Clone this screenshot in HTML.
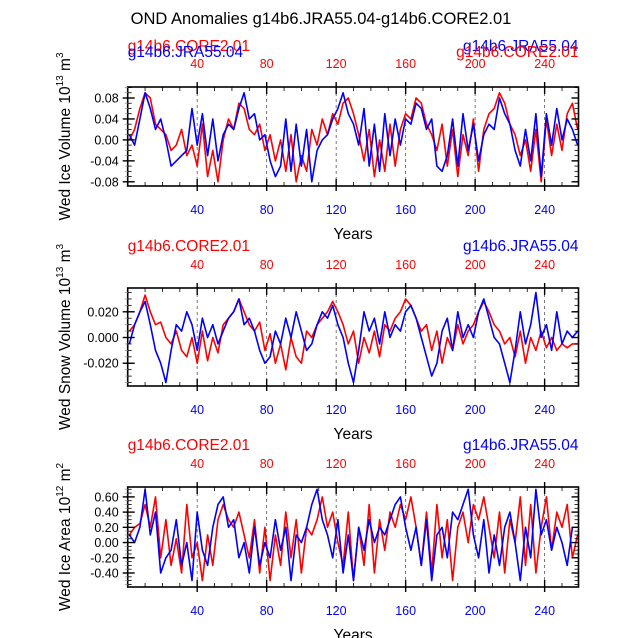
<!DOCTYPE html>
<html><head><meta charset="utf-8"><style>
html,body{margin:0;padding:0;background:#fff;}
svg{display:block;font-family:"Liberation Sans",Arial,sans-serif;}
</style></head><body>
<svg id="chart" width="638" height="638" viewBox="0 0 638 638" xmlns="http://www.w3.org/2000/svg">
<text x="321" y="24" font-size="16.5" text-anchor="middle">OND Anomalies g14b6.JRA55.04-g14b6.CORE2.01</text>
</svg>
<script>
const xTicks=[40,80,120,160,200,240];
const iceRed=[0.00,0.02,0.06,0.09,0.08,0.03,0.02,0.01,-0.02,-0.01,0.02,-0.03,-0.01,-0.05,0.03,-0.07,-0.02,-0.08,0.00,0.04,0.02,0.07,0.06,0.02,0.01,0.03,-0.02,0.01,-0.04,0.00,-0.06,0.01,-0.08,-0.03,-0.06,0.02,-0.01,0.04,0.01,0.05,0.03,0.07,0.08,0.05,0.01,-0.04,0.02,-0.07,0.00,-0.06,0.03,-0.05,0.02,0.05,0.04,0.08,0.07,0.03,0.01,-0.02,0.03,-0.05,0.02,-0.07,0.01,-0.03,0.04,-0.06,0.02,0.05,0.06,0.09,0.07,0.03,0.01,-0.03,0.00,-0.06,0.02,-0.08,0.04,-0.03,0.03,-0.02,0.05,0.07,0.02];
const iceBlue=[0.01,-0.01,0.04,0.09,0.06,0.02,0.04,0.00,-0.05,-0.04,-0.03,-0.02,0.06,-0.01,0.05,-0.03,0.04,-0.04,0.01,0.03,0.02,0.06,0.09,0.04,0.05,0.00,0.01,-0.04,-0.07,-0.05,0.04,-0.06,0.03,-0.05,0.02,-0.08,-0.02,0.00,0.01,0.04,0.06,0.09,0.05,0.03,-0.01,0.06,-0.05,0.03,-0.06,0.05,-0.03,0.04,-0.01,0.04,0.03,0.07,0.06,0.02,0.04,-0.05,-0.06,-0.03,0.04,-0.05,0.05,-0.02,0.03,-0.04,0.01,0.03,0.02,0.08,0.05,0.03,-0.02,-0.05,0.02,-0.04,0.05,-0.07,0.05,-0.01,0.06,0.00,0.04,0.02,-0.01];
const snowRed=[0.005,0.01,0.02,0.033,0.02,0.01,0.012,0.0,-0.005,0.005,-0.01,-0.015,0.0,-0.02,0.005,-0.018,0.0,-0.012,0.01,0.015,0.02,0.03,0.02,0.01,0.005,0.012,-0.01,0.003,-0.02,-0.005,-0.025,0.0,-0.015,-0.02,0.005,0.0,0.01,0.015,0.02,0.028,0.02,0.01,-0.005,0.005,-0.02,0.0,-0.012,0.005,-0.015,0.01,0.005,0.015,0.02,0.03,0.025,0.015,0.005,0.01,-0.01,0.005,-0.02,0.0,-0.01,0.01,-0.005,0.005,0.01,0.02,0.028,0.02,0.01,0.005,-0.005,0.0,-0.015,0.005,-0.02,0.0,-0.01,0.005,-0.008,0.0,-0.01,-0.005,-0.008,-0.005,-0.005];
const snowBlue=[-0.005,0.01,0.02,0.028,0.01,-0.01,-0.02,-0.035,-0.01,0.01,0.005,0.02,0.01,-0.01,0.015,0.0,0.01,-0.005,0.005,0.015,0.02,0.03,0.01,0.015,0.005,-0.01,-0.02,-0.015,0.005,-0.005,0.015,0.0,0.02,0.005,-0.01,-0.005,0.01,0.02,0.015,0.025,0.01,0.0,-0.02,-0.035,-0.01,0.02,0.005,0.015,-0.005,0.02,0.0,0.01,0.005,0.02,0.025,0.015,0.0,-0.015,-0.03,-0.02,0.005,0.015,-0.01,0.02,0.0,0.01,0.0,0.02,0.03,0.015,0.0,-0.005,-0.02,-0.035,-0.01,0.02,-0.005,0.01,0.035,0.0,0.01,-0.01,0.02,-0.005,0.005,0.0,0.005];
const areaRed=[0.1,0.2,0.25,0.5,0.2,0.6,-0.2,0.3,-0.3,0.05,-0.4,0.5,-0.2,0.0,-0.5,0.1,-0.3,0.3,0.5,0.3,0.2,0.4,0.1,-0.2,0.3,-0.4,0.2,-0.5,0.1,-0.3,0.4,-0.2,0.3,-0.4,0.2,0.1,0.3,0.6,0.2,0.4,0.0,-0.3,0.4,-0.5,0.2,-0.3,0.5,-0.4,0.3,-0.1,0.4,0.2,0.5,0.3,0.6,0.2,-0.3,0.4,-0.4,0.5,-0.2,0.3,-0.5,0.2,0.4,0.0,0.5,0.3,0.6,0.2,-0.2,0.4,-0.4,0.3,0.0,0.6,-0.3,0.5,-0.4,0.2,0.6,-0.1,0.4,0.2,0.5,-0.2,0.1];
const areaBlue=[0.1,0.0,0.2,0.7,0.1,0.4,-0.4,-0.2,-0.1,0.3,-0.3,0.0,-0.5,0.4,-0.1,-0.3,0.2,0.5,0.6,0.2,0.3,-0.2,0.0,-0.4,0.2,-0.3,0.0,-0.2,0.3,-0.1,0.2,-0.5,0.1,0.0,0.2,0.5,0.7,0.3,0.1,-0.2,0.3,-0.4,0.1,-0.5,0.2,-0.1,0.3,0.0,0.2,0.1,0.3,0.5,0.6,0.2,-0.1,0.2,-0.3,0.3,-0.5,0.1,0.2,-0.2,0.4,0.3,0.5,0.7,0.1,-0.2,0.3,-0.4,0.1,-0.3,0.2,0.4,0.0,-0.5,0.2,-0.2,0.7,0.1,0.3,-0.1,0.2,0.0,-0.3,0.2];
const iceTicks=[0.08,0.04,0.00,-0.04,-0.08];
const iceTickLabels=["0.08","0.04","0.00","-0.04","-0.08"];
const snowTicks=[0.02,0.0,-0.02];
const snowTickLabels=["0.020","0.000","-0.020"];
const areaTicks=[0.6,0.4,0.2,0.0,-0.2,-0.4];
const areaTickLabels=["0.60","0.40","0.20","0.00","-0.20","-0.40"];

const NS="http://www.w3.org/2000/svg";
const svg=document.getElementById('chart');
function mk(tag,attrs,parent){const e=document.createElementNS(NS,tag);for(const k in attrs)e.setAttribute(k,attrs[k]);(parent||svg).appendChild(e);return e;}
const X0=127.7,X1=578.5,XMIN=0,XMAX=259.5;
function xs(v){return X0+(v-XMIN)/(XMAX-XMIN)*(X1-X0);}

function panel(id,top,bottom,ymin,ymax,ticks,tickLabels,minorStep,red,blue,titleMain,sup,unit,unitSup,overlap){
  const g=mk('g',{});
  
  
  const ys=v=>bottom-(v-ymin)/(ymax-ymin)*(bottom-top);
  xTicks.forEach(t=>{const l=mk('line',{x1:xs(t),x2:xs(t),y1:top,y2:bottom,stroke:'#555','stroke-width':0.8,'stroke-dasharray':'3,3'},g);
    });
  [[red,'#ff0000','red'],[blue,'#0000ff','blue']].forEach(([arr,c,n])=>{
    const pts=arr.map((v,i)=>xs(i*3+1).toFixed(1)+','+ys(v).toFixed(1)).join(' ');
    const p=mk('polyline',{points:pts,fill:'none',stroke:c,'stroke-width':1.6,'stroke-linejoin':'round'},g);
    
  });
  const f=mk('rect',{x:X0,y:top,width:X1-X0,height:bottom-top,fill:'none',stroke:'#000','stroke-width':1.6},g);
  
  for(let t=10;t<=250;t+=10){const major=t%40===0;
    const x=xs(t);
    mk('line',{x1:x,x2:x,y1:bottom,y2:bottom-(major?7:4),stroke:'#000','stroke-width':major?1.4:0.8},g);
    mk('line',{x1:x,x2:x,y1:top,y2:top+(major?7:4),stroke:'#000','stroke-width':major?1.4:0.8},g);
    if(major){mk('line',{x1:x,x2:x,y1:bottom,y2:bottom+5,stroke:'#000','stroke-width':1.4},g);
      mk('line',{x1:x,x2:x,y1:top,y2:top-5,stroke:'#000','stroke-width':1.4},g);}
  }
  xTicks.forEach(t=>{
    const a=mk('text',{x:xs(t),y:bottom+28,'font-size':12.5,'text-anchor':'middle',fill:'#0000ff'},g);a.textContent=t;
    
    const b=mk('text',{x:xs(t),y:top-19,'font-size':12.5,'text-anchor':'middle',fill:'#ff0000'},g);b.textContent=t;
    
  });
  for(let v=Math.ceil(ymin/minorStep)*minorStep;v<=ymax;v+=minorStep){
    const y=ys(v);mk('line',{x1:X0,x2:X0+4,y1:y,y2:y,stroke:'#000','stroke-width':0.8},g);
    mk('line',{x1:X1,x2:X1-4,y1:y,y2:y,stroke:'#000','stroke-width':0.8},g);
    mk('line',{x1:X0,x2:X0-3,y1:y,y2:y,stroke:'#999','stroke-width':0.8},g);}
  ticks.forEach((v,i)=>{const y=ys(v);
    mk('line',{x1:X0-5,x2:X0+7,y1:y,y2:y,stroke:'#000','stroke-width':1.4},g);
    mk('line',{x1:X1,x2:X1-7,y1:y,y2:y,stroke:'#000','stroke-width':1.4},g);
    const t=mk('text',{x:X0-9,y:y+4.5,'font-size':12.5,'text-anchor':'end'},g);t.textContent=tickLabels[i];
    });
  const xt=mk('text',{x:(X0+X1)/2,y:bottom+53,'font-size':15.5,'text-anchor':'middle'},g);xt.textContent='Years';
  
  const cy=(top+bottom)/2;
  const yt=mk('text',{x:0,y:0,'font-size':15.5,'text-anchor':'middle',transform:`translate(70,${cy}) rotate(-90)`},g);
  
  yt.innerHTML=titleMain+' 10<tspan dy="-7" font-size="10">'+sup+'</tspan><tspan dy="7"> '+unit+'</tspan><tspan dy="-7" font-size="10">'+unitSup+'</tspan>';
  const ly=overlap?[top-36,top-30]:[top-37,top-37];
  const rl=mk('text',{x:X0,y:ly[0],'font-size':15.5,fill:'#ff0000'},g);rl.textContent='g14b6.CORE2.01';
  
  const br=mk('text',{x:X1,y:overlap?ly[0]:ly[1],'font-size':15.5,fill:'#0000ff','text-anchor':'end'},g);br.textContent='g14b6.JRA55.04';
  
  if(overlap){
    const bl=mk('text',{x:X0,y:ly[1],'font-size':15.5,fill:'#0000ff'},g);bl.textContent='g14b6.JRA55.04';
    
    const rr=mk('text',{x:X1,y:ly[1],'font-size':15.5,fill:'#ff0000','text-anchor':'end'},g);rr.textContent='g14b6.CORE2.01';
    
  }
}
panel('ice-volume',87,186,-0.088,0.101,iceTicks,iceTickLabels,0.01,iceRed,iceBlue,'Wed Ice Volume','13','m','3',true);
panel('snow-volume',288,386,-0.0377,0.0385,snowTicks,snowTickLabels,0.005,snowRed,snowBlue,'Wed Snow Volume','13','m','3',false);
panel('ice-area',487,587,-0.584,0.73,areaTicks,areaTickLabels,0.05,areaRed,areaBlue,'Wed Ice Area','12','m','2',false);
</script>
</body></html>
